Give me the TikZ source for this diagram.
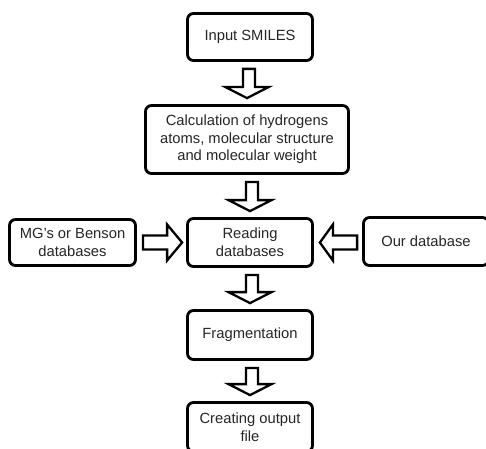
\documentclass[tikz,border=0pt]{standalone}
\usepackage{fontspec}
\setmainfont{Liberation Sans}
\usetikzlibrary{calc}
\tikzset{
  box/.style={draw=black, line width=2.8pt, rounded corners=6pt, align=center,
    inner sep=2pt, font=\fontsize{14.75pt}{17.6pt}\selectfont, text=black!85},
  barrow/.style={draw=black, line width=2.3pt, fill=white, line join=miter}
}
\newcommand{\varrowbetween}[2]{%
  \draw[barrow] let \p1=(#1.south), \p2=(#2.north) in
    ($(\x2-4pt,\y1-7pt)$) -- ($(\x2-4pt,\y2+17pt)$) -- ($(\x2-21.5pt,\y2+17pt)$) --
    ($(\x2,\y2+6pt)$) -- ($(\x2+21.5pt,\y2+17pt)$) -- ($(\x2+8pt,\y2+17pt)$) --
    ($(\x2+8pt,\y1-7pt)$) -- cycle;}
\newcommand{\rarrowbetween}[2]{%
  \draw[barrow] let \p1=(#1.east), \p2=(#2.west) in
    ($(\x1+6pt,\y2+7pt)$) -- ($(\x2-19pt,\y2+7pt)$) -- ($(\x2-19pt,\y2+18pt)$) --
    ($(\x2-4pt,\y2)$) -- ($(\x2-19pt,\y2-18pt)$) -- ($(\x2-19pt,\y2-7pt)$) --
    ($(\x1+6pt,\y2-7pt)$) -- cycle;}
\newcommand{\larrowbetween}[2]{%
  \draw[barrow] let \p1=(#1.west), \p2=(#2.east) in
    ($(\x1-5pt,\y2+7pt)$) -- ($(\x2+19pt,\y2+7pt)$) -- ($(\x2+19pt,\y2+18pt)$) --
    ($(\x2+6pt,\y2)$) -- ($(\x2+19pt,\y2-18pt)$) -- ($(\x2+19pt,\y2-7pt)$) --
    ($(\x1-5pt,\y2-7pt)$) -- cycle;}
\begin{document}
\begin{tikzpicture}[x=1pt,y=1pt]
  \useasboundingbox (0,0) rectangle (486,448);
  \clip (0,0) rectangle (486,448);
  \fill[white] (0,0) rectangle (486,448);
  \node[box, minimum width=125pt, minimum height=47pt] (in) at (250,411) {Input SMILES};
  \node[box, minimum width=203pt, minimum height=68pt] (calc) at (247,308.5)
    {Calculation of hydrogens\\atoms, molecular structure\\and molecular weight};
  \node[box, minimum width=125pt, minimum height=48pt] (read) at (250,205.5) {Reading\\databases};
  \node[box, minimum width=126pt, minimum height=46pt] (mg) at (72.5,205.5) {MG's or Benson\\databases};
  \node[box, minimum width=125pt, minimum height=48pt] (our) at (426,206.5) {Our database};
  \node[box, minimum width=125pt, minimum height=49pt] (frag) at (250,113) {Fragmentation};
  \node[box, minimum width=125pt, minimum height=49pt] (create) at (250,21) {Creating output\\file};
  \varrowbetween{in}{calc}
  \varrowbetween{calc}{read}
  \varrowbetween{read}{frag}
  \varrowbetween{frag}{create}
  \rarrowbetween{mg}{read}
  \larrowbetween{our}{read}
\end{tikzpicture}
\end{document}
